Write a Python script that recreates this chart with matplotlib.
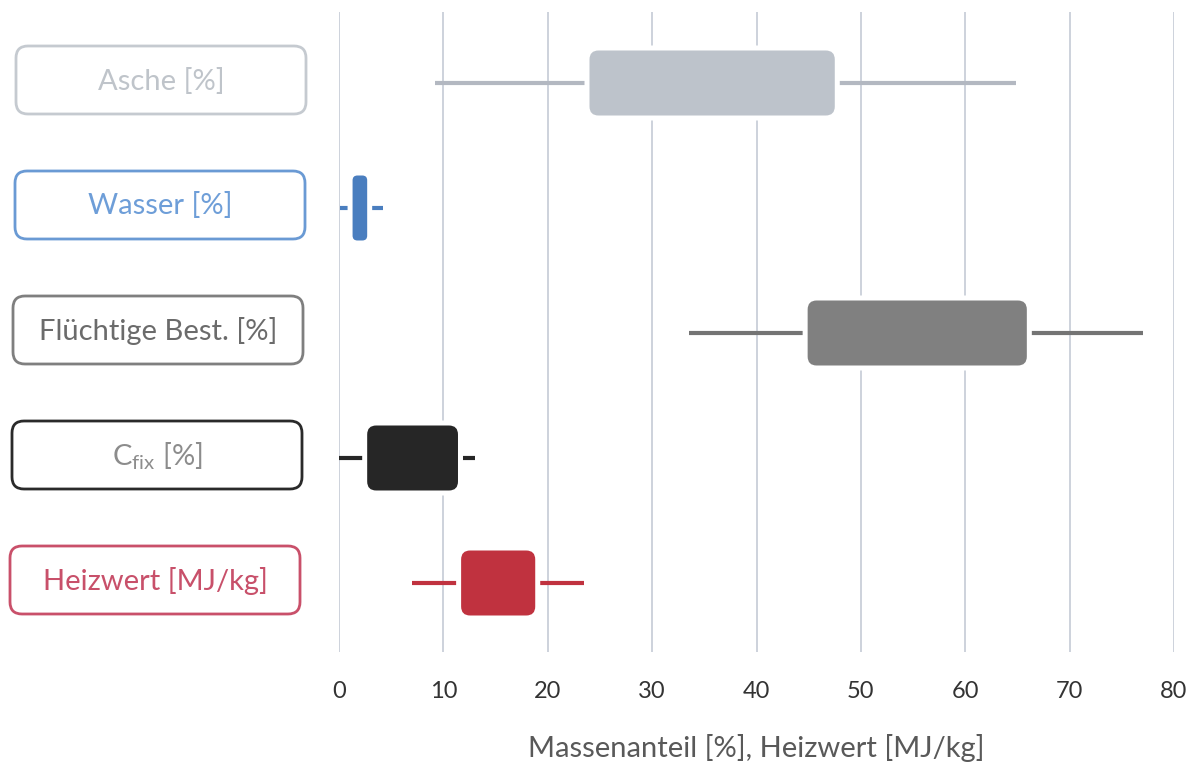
import matplotlib
matplotlib.use("Agg")
import matplotlib.pyplot as plt
from matplotlib.patches import FancyBboxPatch

plt.rcParams['font.family'] = ['Lato', 'DejaVu Sans']
plt.rcParams['mathtext.fontset'] = 'custom'
plt.rcParams['mathtext.rm'] = 'Lato'
plt.rcParams['mathtext.it'] = 'Lato'

# ---- data ----
labels = ["Asche [%]", "Wasser [%]", "Flüchtige Best. [%]",
          r"C$_{\mathrm{fix}}$ [%]", "Heizwert [MJ/kg]"]
whisker_low = [9.2, 0.1, 33.5, 0.0, 7.0]
box_low = [24.0, 1.3, 44.9, 2.7, 11.7]
box_high = [47.5, 2.7, 65.9, 11.4, 18.8]
whisker_high = [64.9, 4.2, 77.0, 13.0, 23.5]
xticks = [0, 10, 20, 30, 40, 50, 60, 70, 80]
xlabel = "Massenanteil [%], Heizwert [MJ/kg]"

# ---- styles ----
box_colors = ["#BDC3CB", "#4A7EBF", "#808080", "#262626", "#C0323F"]
whisker_colors = ["#B3B8C1", "#4A7EBF", "#747474", "#262626", "#C0323F"]
label_edge = ["#C5CAD0", "#6A9AD4", "#7F7F7F", "#2A2A2A", "#C9506A"]
label_text = ["#BFC4CA", "#6E9ED8", "#6B6B6B", "#8C8C8C", "#C8506A"]

W, H = 1190, 763
fig = plt.figure(figsize=(W / 100, H / 100), dpi=100)
fig.patch.set_facecolor("white")

ax_left, ax_right, ax_top, ax_bot = 339, 1174, 12, 652
ax = fig.add_axes([ax_left / W, (H - ax_bot) / H,
                   (ax_right - ax_left) / W, (ax_bot - ax_top) / H])
row_px0, row_step = 83, 125
ax.set_xlim(0, 80)
ax.set_ylim((ax_bot - row_px0) / row_step, (ax_top - row_px0) / row_step)
for s in ax.spines.values():
    s.set_visible(False)
ax.set_yticks([])
ax.set_xticks(xticks)
ax.tick_params(axis='x', length=0, pad=21, labelsize=17, labelcolor="#333333")
ax.xaxis.grid(True, color="#CDD2DC", linewidth=1.4)
ax.set_axisbelow(True)
ax.set_xlabel(xlabel, fontsize=21, color="#595959", labelpad=23)

px_per_x = (ax_right - ax_left) / 80.0
px_per_y = row_step
bar_h = 65 / row_step
aspect = (1 / px_per_y) / (1 / px_per_x)

for i in range(len(labels)):
    lo, b0, b1, hi = whisker_low[i], box_low[i], box_high[i], whisker_high[i]
    ax.plot([lo, b0], [i, i], color=whisker_colors[i], lw=3.0,
            solid_capstyle='butt', zorder=2)
    ax.plot([b1, hi], [i, i], color=whisker_colors[i], lw=3.0,
            solid_capstyle='butt', zorder=2)
    width_px = (b1 - b0) * px_per_x
    r_px = min(9, width_px / 3)
    r = r_px / px_per_x
    # white halo
    halo = 5 / px_per_x
    ax.add_patch(FancyBboxPatch((b0, i - bar_h / 2), b1 - b0, bar_h,
                                boxstyle=f"round,pad={halo},rounding_size={r + halo}",
                                mutation_aspect=aspect, facecolor="white",
                                edgecolor="none", zorder=3))
    ax.add_patch(FancyBboxPatch((b0, i - bar_h / 2), b1 - b0, bar_h,
                                boxstyle=f"round,pad=0,rounding_size={r}",
                                mutation_aspect=aspect, facecolor=box_colors[i],
                                edgecolor="none", zorder=4))

# ---- label boxes (overlay in pixel coords) ----
ov = fig.add_axes([0, 0, 1, 1])
ov.set_xlim(0, W)
ov.set_ylim(H, 0)
ov.axis('off')
ov.patch.set_alpha(0)
lb_w, lb_h = 290, 68
lb_x = [16, 15, 13, 12, 10]
for i in range(len(labels)):
    cy = row_px0 + row_step * i - 3
    ov.add_patch(FancyBboxPatch((lb_x[i], cy - lb_h / 2), lb_w, lb_h,
                                boxstyle="round,pad=0,rounding_size=12",
                                facecolor="white", edgecolor=label_edge[i],
                                linewidth=2.0))
    ov.text(lb_x[i] + lb_w / 2, cy + 1, labels[i], ha='center', va='center',
            fontsize=21, color=label_text[i])

fig.savefig("out.png", dpi=100, facecolor="white")
